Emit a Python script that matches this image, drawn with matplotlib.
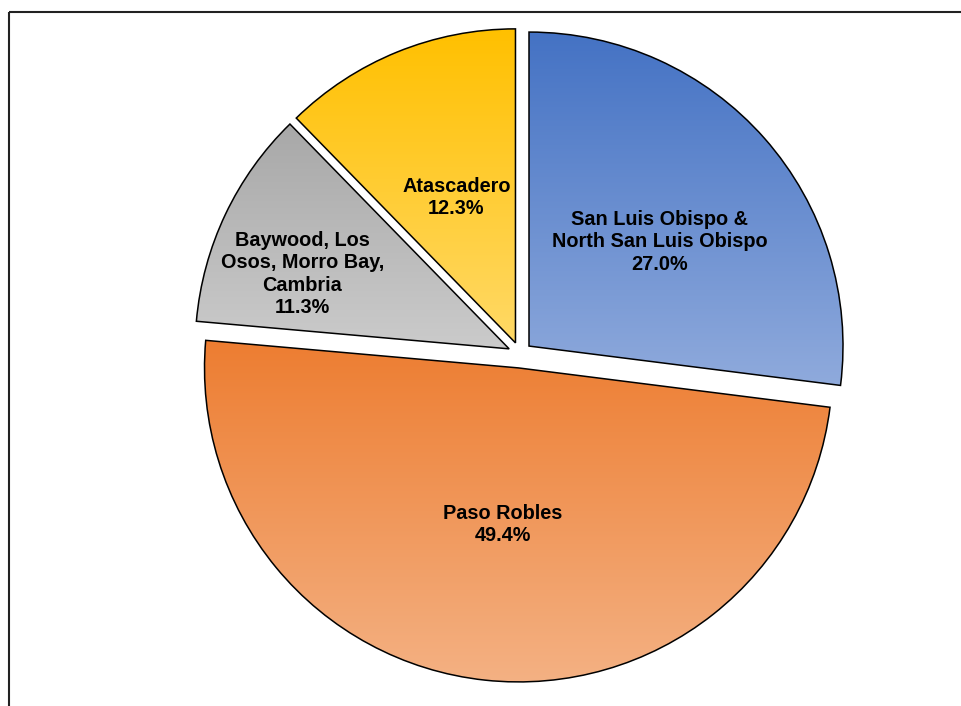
import numpy as np
import matplotlib.pyplot as plt

categories = ["San Luis Obispo &\nNorth San Luis Obispo", "Paso Robles",
              "Baywood, Los\nOsos, Morro Bay,\nCambria", "Atascadero"]
shares = [27.0, 49.4, 11.3, 12.3]
top_colors = ["#4472C4", "#ED7D31", "#A8A8A8", "#FFC000"]
bottom_colors = ["#8FAADC", "#F4B183", "#CBCBCB", "#FFD966"]
explode_px = [12, 14, 12, 12]
label_dist = [0.533, 0.501, 0.70, 0.50]
label_angle_offset = [-2.9, 0.5, 5.5, 0.0]

W, H = 962, 706
fig = plt.figure(figsize=(W / 100, H / 100), dpi=100)
ax = fig.add_axes([0, 0, 1, 1])

cx, cy, R = 520, 352, 314
wedges, _ = ax.pie(shares, explode=explode_px, startangle=90, counterclock=False,
                   center=(cx, cy), radius=R,
                   wedgeprops=dict(edgecolor="black", linewidth=1.1,
                                   facecolor="none", zorder=3))
ax.set_xlim(0, W)
ax.set_ylim(0, H)
ax.set_aspect("equal")
ax.axis("off")

def hex2rgb(h):
    h = h.lstrip("#")
    return np.array([int(h[i:i + 2], 16) / 255 for i in (0, 2, 4)])

for w, tc, bc, name, v, ld, lao in zip(wedges, top_colors, bottom_colors,
                                       categories, shares, label_dist,
                                       label_angle_offset):
    bb = w.get_path().get_extents()
    t = np.linspace(0, 1, 256)[:, None, None]
    grad = hex2rgb(bc)[None, None, :] * (1 - t) + hex2rgb(tc)[None, None, :] * t
    im = ax.imshow(grad, extent=(bb.x0, bb.x1, bb.y0, bb.y1), origin="lower",
                   aspect="auto", zorder=1, interpolation="bilinear")
    im.set_clip_path(w)
    mid = np.deg2rad((w.theta1 + w.theta2) / 2 + lao)
    x0, y0 = w.center
    lx = x0 + ld * w.r * np.cos(mid)
    ly = y0 + ld * w.r * np.sin(mid)
    ax.text(lx, ly, f"{name}\n{v:.1f}%", ha="center", va="center",
            multialignment="center", fontsize=14.3, fontweight="bold",
            family="Liberation Sans", linespacing=1.22, zorder=4)

# frame lines (left and top, partly outside the image)
ax.plot([9, 9], [0, H - 12], color="#222222", lw=1.5, solid_capstyle="butt",
        clip_on=False, zorder=5)
ax.plot([9, W], [H - 12, H - 12], color="#222222", lw=1.5,
        solid_capstyle="butt", clip_on=False, zorder=5)

fig.savefig("out.png", dpi=100)
